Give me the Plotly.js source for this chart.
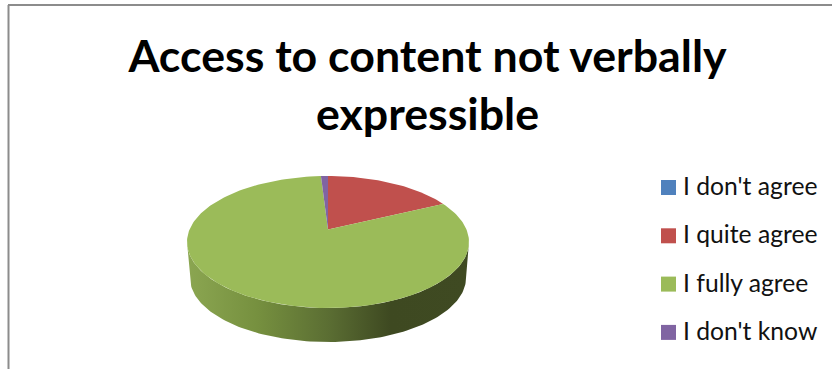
<!DOCTYPE html>
<html>
<head>
<meta charset="utf-8">
<script src="https://cdn.plot.ly/plotly-3.0.1.min.js"></script>
<style>html,body{margin:0;padding:0;background:#fff}#chart{width:835px;height:369px}</style>
</head>
<body>
<div id="chart"></div>
<script>
const titleText = 'Access to content not verbally<br>expressible';
const categories = ["I don't agree", 'I quite agree', 'I fully agree', "I don't know"];
const shares = [0, 15.2, 84, 0.8];
const sliceColors = ['#4f81bd', '#c0504d', '#9bbb59', '#8064a2'];

// Tilted pie geometry, in pixel-sized axis units.
const rim = {cx: 328, cy: 242, rx: 141, ry: 66};
const base = {cx: 328, cy: 278, rx: 138, ry: 64};
const apex = {x: 328, y: 229.5};
const rad = d => d * Math.PI / 180;
const onEllipse = (e, deg) => [e.cx + e.rx * Math.sin(rad(deg)), e.cy - e.ry * Math.cos(rad(deg))];

function arc(e, from, to) {
  const n = Math.max(2, Math.ceil(Math.abs(to - from) / 1.5));
  const pts = [];
  for (let i = 0; i <= n; i++) pts.push(onEllipse(e, from + (to - from) * i / n));
  return pts;
}

const traces = [];

// Side wall of the front half, shaded left to right.
const wallPts = arc(rim, 90, 270).concat(arc(base, 270, 90));
traces.push({
  type: 'scatter', mode: 'lines', hoverinfo: 'skip', showlegend: false,
  x: wallPts.map(p => p[0]), y: wallPts.map(p => p[1]),
  line: {width: 0}, fill: 'toself',
  fillgradient: {
    type: 'horizontal', start: 187, stop: 469,
    colorscale: [[0, '#8ba651'], [0.25, '#76903f'], [0.5, '#5b6e33'], [0.72, '#3e4921'], [1, '#3f4a22']]
  }
});

// Top face: one filled wedge per category.
const total = shares.reduce((a, b) => a + b, 0);
let start = 0;
categories.forEach((name, i) => {
  const sweep = shares[i] / total * 360;
  if (sweep > 0) {
    const pts = [[apex.x, apex.y]].concat(arc(rim, start, start + sweep), [[apex.x, apex.y]]);
    traces.push({
      type: 'scatter', mode: 'lines', name, showlegend: false,
      x: pts.map(p => p[0]), y: pts.map(p => p[1]),
      line: {width: 0}, fill: 'toself', fillcolor: sliceColors[i]
    });
  }
  start += sweep;
});

// Key on the right: square swatches, then their labels.
const keyY = categories.map((_, i) => 187.5 + i * 48.3);
traces.push({
  type: 'scatter', mode: 'markers', hoverinfo: 'skip', showlegend: false,
  x: categories.map(() => 668.5), y: keyY,
  marker: {symbol: 'square', size: 15, color: sliceColors, line: {width: 0}}
});
traces.push({
  type: 'scatter', mode: 'text', hoverinfo: 'skip', showlegend: false,
  x: categories.map(() => 683), y: keyY.map(v => v + 1.5),
  text: categories, textposition: 'middle right',
  textfont: {family: 'Lato, sans-serif', size: 24.7, color: '#111'}
});

const layout = {
  width: 835, height: 369,
  margin: {l: 0, r: 0, t: 0, b: 0},
  paper_bgcolor: '#fff', plot_bgcolor: '#fff',
  showlegend: false,
  title: {
    text: titleText, x: 0.512, xanchor: 'center', y: 0.805, yanchor: 'bottom',
    font: {family: 'Lato, sans-serif', size: 44.7, color: '#000', weight: 700}
  },
  xaxis: {range: [0, 835], visible: false, fixedrange: true},
  yaxis: {range: [369, 0], visible: false, fixedrange: true},
  shapes: [
    {type: 'line', xref: 'x', yref: 'y', x0: 8.5, x1: 8.5, y0: 5, y1: 369, line: {color: '#8c8c8c', width: 2}},
    {type: 'line', xref: 'x', yref: 'y', x0: 8, x1: 832, y0: 5, y1: 5, line: {color: '#8c8c8c', width: 2}}
  ]
};

Plotly.newPlot('chart', traces, layout, {displayModeBar: false, staticPlot: true});
</script>
</body>
</html>
